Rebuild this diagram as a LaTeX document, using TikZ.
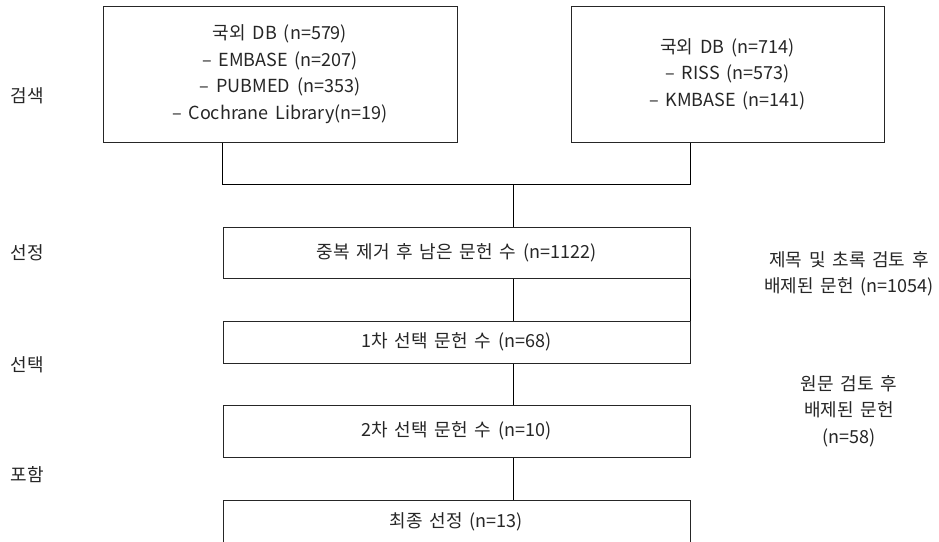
\documentclass[tikz,border=0pt]{standalone}
\usepackage{fontspec}
\setmainfont[WordSpace=1.7]{Noto Sans CJK KR}
\begin{document}
\begin{tikzpicture}[x=1pt,y=-1pt,
  box/.style={draw=black!85, line width=1pt, rectangle, inner sep=0pt, align=center},
  txt/.style={font=\fontsize{18}{26.5}\selectfont, text=black!85},
  link/.style={draw=black, line width=0.9pt}]
\clip (0,0) rectangle (939,541);
\fill[white] (0,0) rectangle (939,541);
\node[box,txt,minimum width=354pt,minimum height=136pt] (b1) at (280,74)
  {국외 DB (n=579)\\– EMBASE (n=207)\\– PUBMED (n=353)\\– Cochrane Library(n=19)};
\node[box,txt,minimum width=313pt,minimum height=136pt] (b2) at (727.5,74)
  {국외 DB (n=714)\\– RISS (n=573)\\– KMBASE (n=141)};
\node[box,txt,minimum width=467pt,minimum height=51pt] (b3) at (456.5,252.5)
  {중복 제거 후 남은 문헌 수 (n=1122)};
\node[box,txt,minimum width=467pt,minimum height=42pt] (b4) at (456.5,342)
  {1차 선택 문헌 수 (n=68)};
\node[box,txt,minimum width=467pt,minimum height=52pt] (b5) at (456.5,431)
  {2차 선택 문헌 수 (n=10)};
\node[box,minimum width=467pt,minimum height=50pt] (b6) at (456.5,525) {};
\node[txt] (b6t) at (456.5,522) {최종 선정 (n=13)};
\coordinate (j) at (513,184);
\draw[link] (b3.west |- b1.south) -- (b3.west |- j) -- (b3.east |- j) -- (b3.east |- b2.south);
\draw[link] (j) -- (j |- b3.north);
\draw[link] (j |- b3.south) -- (j |- b4.north);
\draw[link] (b3.south east) -- (b4.north east);
\draw[link] (j |- b4.south) -- (j |- b5.north);
\draw[link] (j |- b5.south) -- (j |- b6.north);
\node[txt] (l1) at (27,96) {검색};
\node[txt] (l2) at (27,253) {선정};
\node[txt] (l3) at (27,365) {선택};
\node[txt] (l4) at (27,475) {포함};
\node[txt,align=center] (r1) at (849,274) {제목 및 초록 검토 후\\배제된 문헌 (n=1054)};
\node[txt,align=center] (r2) at (849,411) {원문 검토 후\\배제된 문헌\\(n=58)};
\end{tikzpicture}
\end{document}
